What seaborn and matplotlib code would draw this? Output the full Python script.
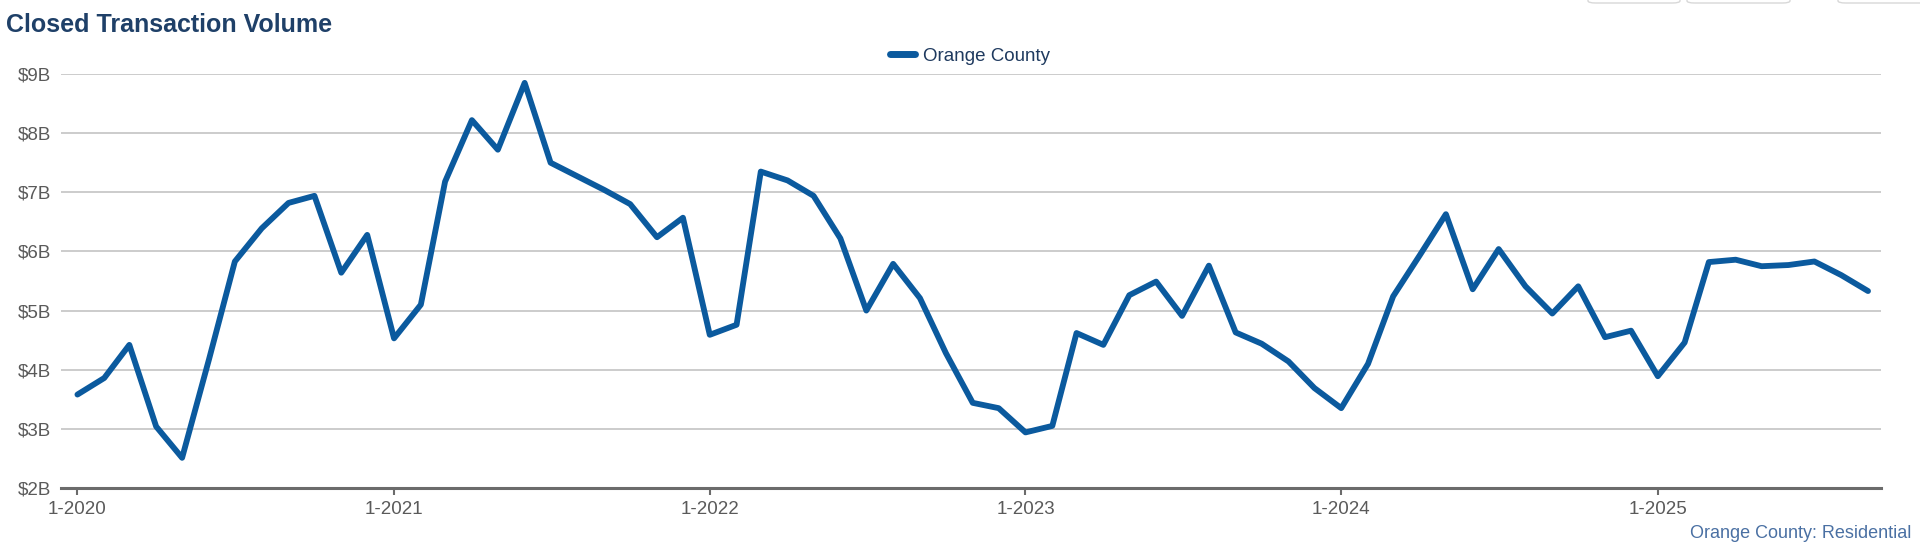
import pandas as pd
import matplotlib.pyplot as plt
import matplotlib.dates as mdates
from matplotlib.ticker import FuncFormatter
from matplotlib.patches import FancyBboxPatch
import seaborn as sns

# aylık kapanan işlem hacmi, milyar $
start_month = "2020-01-01"
volume_b = [
    3.58, 3.86, 4.42, 3.04, 2.51, 4.17, 5.83, 6.39, 6.82, 6.94, 5.64, 6.28,   # 2020
    4.53, 5.10, 7.18, 8.22, 7.72, 8.85, 7.50, 7.27, 7.04, 6.80, 6.24, 6.57,   # 2021
    4.59, 4.76, 7.35, 7.20, 6.94, 6.22, 5.00, 5.79, 5.21, 4.28, 3.44, 3.35,   # 2022
    2.94, 3.05, 4.62, 4.42, 5.26, 5.49, 4.91, 5.76, 4.63, 4.44, 4.14, 3.69,   # 2023
    3.35, 4.10, 5.24, 5.94, 6.63, 5.36, 6.04, 5.41, 4.95, 5.41, 4.55, 4.66,   # 2024
    3.89, 4.46, 5.82, 5.86, 5.75, 5.77, 5.83, 5.60, 5.33,                     # 2025
]
series_name = "Orange County"
year_ticks = ["2020-01-01", "2021-01-01", "2022-01-01", "2023-01-01", "2024-01-01", "2025-01-01"]
y_ticks = [2, 3, 4, 5, 6, 7, 8, 9]

df = pd.DataFrame({
    "month": pd.date_range(start_month, periods=len(volume_b), freq="MS"),
    "volume": volume_b,
    "region": series_name,
})

sns.set_style("white")
plt.rcParams["font.family"] = ["Liberation Sans", "DejaVu Sans"]

fig = plt.figure(figsize=(19.2, 5.5), dpi=100)
ax = fig.add_axes([61 / 1920, 1 - 488 / 550, (1881 - 61) / 1920, (488 - 74) / 550])

line_color = "#0b5a9e"
sns.lineplot(data=df, x="month", y="volume", hue="region", palette=[line_color],
             linewidth=4.2, ax=ax, legend=True)

# eksenler
ax.set_xlim(pd.Timestamp("2019-12-13"), pd.Timestamp("2025-09-16"))
ax.set_ylim(2, 9)
ax.set_yticks(y_ticks)
ax.yaxis.set_major_formatter(FuncFormatter(lambda v, p: f"${v:.0f}B"))
ax.set_xticks(pd.to_datetime(year_ticks))
ax.xaxis.set_major_formatter(mdates.DateFormatter("%-m-%Y"))
ax.set_xlabel("")
ax.set_ylabel("")

ax.grid(axis="y", color="#c8c8c8", linewidth=1.3)
ax.grid(axis="x", visible=False)
ax.set_axisbelow(True)
for s in ["top", "right", "left"]:
    ax.spines[s].set_visible(False)
ax.spines["bottom"].set_color("#6b6b6b")
ax.spines["bottom"].set_linewidth(2.2)
ax.spines["bottom"].set_zorder(5)

ax.tick_params(axis="y", length=0, pad=7, labelsize=13.5, labelcolor="#5a5a5a")
ax.tick_params(axis="x", length=5, width=1.5, color="#6b6b6b", direction="out",
               pad=4, labelsize=13.5, labelcolor="#5a5a5a", bottom=True)

# legend üstte ortada
handles, labels = ax.get_legend_handles_labels()
ax.get_legend().remove()
leg = fig.legend(handles, labels, loc="center", bbox_to_anchor=(0.505, 1 - 56 / 550),
                 frameon=False, fontsize=13.5, handlelength=1.35, handletextpad=0.4)
for t in leg.get_texts():
    t.set_color("#1f3a5f")
for h in leg.get_lines():
    h.set_linewidth(5)

fig.text(6 / 1920, 1 - 25 / 550, "Closed Transaction Volume", fontsize=18,
         fontweight="bold", color="#1f4068", ha="left", va="center")
fig.text(1911 / 1920, 1 - 534 / 550, "Orange County: Residential", fontsize=13,
         color="#4a70a3", ha="right", va="center")

# sağ üstteki yarım görünen buton çerçeveleri
for x0, x1 in [(1588, 1680), (1687, 1790), (1838, 1940)]:
    fig.patches.append(FancyBboxPatch((x0 / 1920, 1 - 3 / 550), (x1 - x0) / 1920, 20 / 550,
                                      boxstyle="round,pad=0,rounding_size=0.004",
                                      transform=fig.transFigure, facecolor="white",
                                      edgecolor="#d8d8d8", linewidth=1))

fig.savefig("out.png", dpi=100)
